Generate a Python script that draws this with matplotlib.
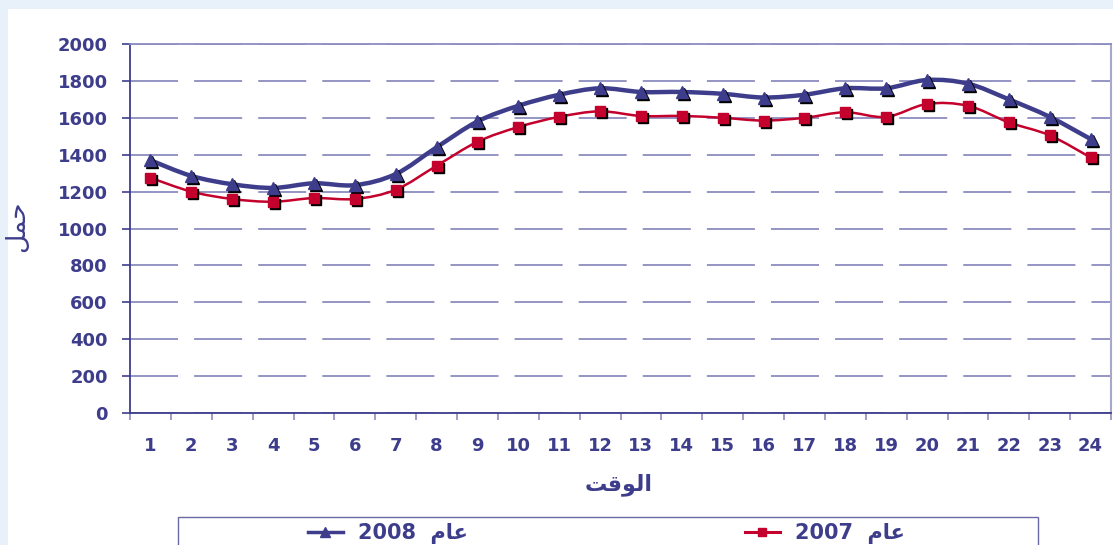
import numpy as np
import matplotlib
matplotlib.use('Agg')
import matplotlib.pyplot as plt
import matplotlib.transforms as mtransforms
from matplotlib.path import Path
from matplotlib.patches import PathPatch, Rectangle
from matplotlib.lines import Line2D

# data
hours = list(range(1, 25))
load_2008 = [1370, 1285, 1240, 1220, 1245, 1235, 1295, 1440, 1580, 1665, 1725, 1760,
             1740, 1740, 1730, 1710, 1725, 1760, 1760, 1805, 1785, 1700, 1605, 1485]
load_2007 = [1275, 1200, 1160, 1145, 1165, 1160, 1210, 1340, 1470, 1550, 1605, 1635,
             1610, 1610, 1600, 1585, 1600, 1630, 1605, 1675, 1665, 1575, 1505, 1385]
y_ticks = [0, 200, 400, 600, 800, 1000, 1200, 1400, 1600, 1800, 2000]

# arabic text, written in presentation forms so it shows joined, right to left
x_title = '\ufe96\ufed7\ufeee\ufedf\ufe8d'   # الوقت
y_title = '\ufede\ufee4\ufea3'               # حمل
year_word = '\ufee1\ufe8e\ufecb'             # عام
label_2008 = '2008  ' + year_word
label_2007 = '2007  ' + year_word

navy = '#3d3d8c'
red = '#c4002c'
grid_col = '#8c8cc0'
plt.rcParams['font.family'] = ['DejaVu Sans']

W, H = 1113, 545
fig = plt.figure(figsize=(W / 100, H / 100), dpi=100, facecolor='#e8f0fa')
# white panel behind everything
fig.patches.append(Rectangle((8 / W, 0), 1, (H - 9) / H, transform=fig.transFigure,
                             facecolor='white', edgecolor='none', zorder=-10))

ax = fig.add_axes([130 / W, (H - 413) / H, 981 / W, 369 / H])
ax.set_facecolor('white')


def smooth_path(x, y):
    pts = np.column_stack([x, y]).astype(float)
    n = len(pts)
    verts = [pts[0]]
    codes = [Path.MOVETO]
    for i in range(n - 1):
        p0 = pts[max(i - 1, 0)]
        p1 = pts[i]
        p2 = pts[i + 1]
        p3 = pts[min(i + 2, n - 1)]
        verts += [p1 + (p2 - p0) / 6, p2 - (p3 - p1) / 6, p2]
        codes += [Path.CURVE4] * 3
    return Path(verts, codes)


shadow = mtransforms.offset_copy(ax.transData, fig=fig, x=2, y=-2, units='dots')

ax.add_patch(PathPatch(smooth_path(hours, load_2008), fill=False, edgecolor=navy, lw=3.2, zorder=3))
ax.add_patch(PathPatch(smooth_path(hours, load_2007), fill=False, edgecolor=red, lw=1.8, zorder=3))

ax.plot(hours, load_2008, ls='none', marker='^', ms=9, color='black', transform=shadow, zorder=4)
ax.plot(hours, load_2008, ls='none', marker='^', ms=9, color=navy, zorder=5)
ax.plot(hours, load_2007, ls='none', marker='s', ms=7, color='black', transform=shadow, zorder=4)
ax.plot(hours, load_2007, ls='none', marker='s', ms=7, color=red, zorder=5)

ax.set_xlim(0.5, 24.5)
ax.set_ylim(0, 2000)
ax.set_yticks(y_ticks)
ax.set_xticks(hours)
ax.set_xticks(np.arange(0.5, 25, 1), minor=True)
# dashes ~48px long with ~16px gaps (pattern is scaled by line width)
ax.yaxis.grid(True, color=grid_col, lw=1.3, linestyle=(0, (26.6, 8.9)))
ax.set_axisbelow(True)

ax.tick_params(axis='y', direction='out', length=6, width=1.2, color=navy,
               labelsize=13, labelcolor=navy, pad=10)
ax.tick_params(axis='x', which='major', length=0, labelsize=13, labelcolor=navy, pad=17)
ax.tick_params(axis='x', which='minor', direction='out', length=5, width=1.2, color=grid_col)
for lab in ax.get_xticklabels() + ax.get_yticklabels():
    lab.set_fontweight('bold')

ax.spines['left'].set_color(navy)
ax.spines['left'].set_linewidth(1.3)
ax.spines['bottom'].set_color(navy)
ax.spines['bottom'].set_linewidth(1.3)
ax.spines['top'].set_color(grid_col)
ax.spines['top'].set_linewidth(1.3)
ax.spines['right'].set_color('#a8a8c8')
ax.spines['right'].set_linewidth(1.5)

fig.text(619 / W, (H - 485) / H, x_title, ha='center', va='center', fontsize=16,
         fontweight='bold', color=navy)
fig.text(17 / W, (H - 226) / H, y_title, ha='center', va='center', rotation=90,
         fontsize=19, color=navy)

# legend box at the bottom (cut by the image edge)
fig.patches.append(Rectangle((178 / W, -0.05), 860 / W, 0.05 + 28 / H, transform=fig.transFigure,
                             facecolor='white', edgecolor='#6a6aa6', lw=1.0, zorder=-5))
handles = [Line2D([], [], color=navy, lw=2.5, marker='^', ms=7),
           Line2D([], [], color=red, lw=2.2, marker='s', ms=6)]
leg = fig.legend(handles, [label_2008, label_2007], loc='center',
                 bbox_to_anchor=(606 / W, 11 / H), ncol=2, frameon=False,
                 handlelength=1.7, handletextpad=0.7, columnspacing=13.3,
                 borderpad=0, prop={'size': 15, 'weight': 'bold'})
for t in leg.get_texts():
    t.set_color(navy)

fig.savefig('out.png', dpi=100, facecolor=fig.get_facecolor())
